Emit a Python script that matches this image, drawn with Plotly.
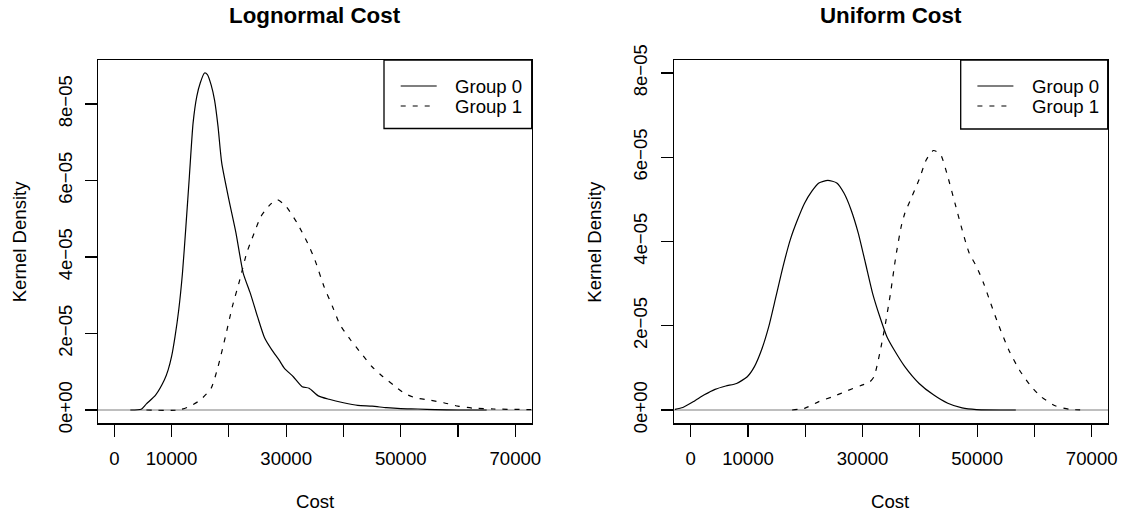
import plotly.graph_objects as go

# ---------------- data ----------------
# Lognormal Cost panel
logn_g0_x = [2800, 4700, 5600, 7200, 8750, 9400, 10000, 10600, 11250, 11900, 12500, 13100,
             13750, 14400, 15000, 15750, 16250, 16900, 17500, 18100, 18750, 20000, 21250,
             22500, 23750, 25000, 26250, 27500, 28750, 29700, 31250, 32800, 34000, 35600,
             37500, 40000, 42500, 45000, 47500, 50000, 53000, 56000, 60000, 65000]
logn_g0_y = [0.0, 0.02, 0.16, 0.39, 0.79, 1.05, 1.4, 1.92, 2.62, 3.58, 4.8, 6.1,
             7.5, 8.2, 8.55, 8.81, 8.77, 8.5, 8.1, 7.42, 6.46, 5.5, 4.62,
             3.58, 3.05, 2.44, 1.88, 1.57, 1.31, 1.09, 0.87, 0.61, 0.57, 0.37,
             0.28, 0.19, 0.12, 0.10, 0.06, 0.035, 0.026, 0.01, 0.0, 0.0]
logn_g1_x = [5600, 11250, 13100, 15000, 16900, 18100, 19400, 20600, 21900, 23100, 24400,
             25600, 27200, 28400, 30000, 31900, 33750, 35000, 36600, 38100, 39400, 41250,
             43100, 45000, 46900, 48750, 50600, 52500, 55000, 57500, 60000, 62500, 66250,
             72800]
logn_g1_y = [0.0, 0.0, 0.09, 0.26, 0.57, 1.13, 1.92, 2.7, 3.4, 4.1, 4.62,
             5.06, 5.37, 5.5, 5.32, 4.89, 4.36, 3.93, 3.23, 2.7, 2.23, 1.83,
             1.48, 1.13, 0.87, 0.65, 0.44, 0.32, 0.26, 0.19, 0.10, 0.05, 0.026,
             0.01]

# Uniform Cost panel
unif_g0_x = [-2750, -1375, 500, 2375, 4250, 6125, 8000, 9875, 11125, 12375, 13625, 14875,
             16125, 17375, 18625, 19875, 21125, 22375, 23940, 25500, 26750, 28000, 29250,
             30500, 31750, 33000, 34250, 35500, 37375, 39875, 42375, 44875, 47375, 49875,
             56750]
unif_g0_y = [0.016, 0.06, 0.2, 0.36, 0.49, 0.57, 0.63, 0.79, 1.03, 1.43, 1.98, 2.69,
             3.41, 4.04, 4.51, 4.91, 5.19, 5.39, 5.45, 5.39, 5.15, 4.75, 4.2,
             3.49, 2.77, 2.22, 1.74, 1.43, 1.03, 0.63, 0.36, 0.16, 0.05, 0.01,
             0.0]
unif_g1_x = [17700, 19875, 22375, 24875, 27375, 29875, 31125, 32000, 33000, 33900, 34875,
             35800, 36750, 37375, 38625, 39875, 41125, 42375, 43625, 44875, 46125, 47375,
             48625, 49875, 51125, 52375, 53625, 55500, 57375, 59250, 61125, 63625, 66125,
             68625]
unif_g1_y = [0.0, 0.04, 0.2, 0.32, 0.46, 0.59, 0.65, 0.79, 1.35, 1.98, 2.77,
             3.64, 4.36, 4.67, 5.07, 5.47, 5.94, 6.16, 6.06, 5.54, 4.91, 4.28,
             3.72, 3.41, 3.01, 2.53, 2.06, 1.43, 0.95, 0.59, 0.32, 0.1, 0.016,
             0.0]

DENS_SCALE = 1e-5  # y values above are in units of 1e-05

panel_titles = ["Lognormal Cost", "Uniform Cost"]
series_names = ["Group 0", "Group 1"]
x_tick_vals = [0, 10000, 20000, 30000, 40000, 50000, 60000, 70000]
x_tick_text = ["0", "10000", "", "30000", "", "50000", "", "70000"]
y_tick_vals = [0, 2e-5, 4e-5, 6e-5, 8e-5]
y_tick_text = ["0e+00", "2e\u221205", "4e\u221205", "6e\u221205", "8e\u221205"]

# ---------------- layout geometry (pixels, in window coordinates) ----------------
W, H = 1122, 518
FONT = "Liberation Sans, Arial, Helvetica, sans-serif"
FS = 18.6
DASH = "5px,7px"


def px(x):
    return x / W


def py(y):
    return 1 - y / H


panels = [
    dict(left=98.3, right=531.7, xr=[-2793, 72860], yr=[-0.3477e-5, 9.150e-5],
         g0=(logn_g0_x, logn_g0_y), g1=(logn_g1_x, logn_g1_y),
         ylab_x=19.7, leg_left=384, leg_bottom=128.5),
    dict(left=674.0, right=1107.7, xr=[-2915, 72790], yr=[-0.3157e-5, 8.309e-5],
         g0=(unif_g0_x, unif_g0_y), g1=(unif_g1_x, unif_g1_y),
         ylab_x=595.0, leg_left=960.7, leg_bottom=129),
]
TOP, BOTTOM = 60.0, 423.3

fig = go.Figure()
shapes = []
annotations = []

for i, p in enumerate(panels):
    xa = "x" if i == 0 else "x2"
    ya = "y" if i == 0 else "y2"
    for (xs, ys), dash, name in [(p["g0"], "solid", series_names[0]),
                                 (p["g1"], DASH, series_names[1])]:
        fig.add_trace(go.Scatter(
            x=xs, y=[v * DENS_SCALE for v in ys], mode="lines", name=name,
            line=dict(color="black", width=1.2, dash=dash, shape="spline", smoothing=0.6),
            xaxis=xa, yaxis=ya, showlegend=False, hoverinfo="skip"))

    axis_common = dict(showline=True, mirror=True, linecolor="black", linewidth=1.3,
                       ticks="outside", ticklen=12, tickwidth=1.2, tickcolor="black",
                       showgrid=False, automargin=False,
                       tickfont=dict(family=FONT, size=FS, color="black"))
    xkey = "xaxis" if i == 0 else "xaxis2"
    ykey = "yaxis" if i == 0 else "yaxis2"
    fig.layout[xkey] = dict(axis_common, domain=[px(p["left"]), px(p["right"])],
                            range=p["xr"], tickvals=x_tick_vals, ticktext=x_tick_text,
                            zeroline=False, anchor=ya, ticklabelstandoff=6)
    fig.layout[ykey] = dict(axis_common, domain=[py(BOTTOM), py(TOP)],
                            range=p["yr"], tickvals=y_tick_vals, ticktext=y_tick_text,
                            tickangle=-90, zeroline=True, zerolinecolor="#BEBEBE",
                            zerolinewidth=1.2, anchor=xa, ticklabelstandoff=6)

    cx = (p["left"] + p["right"]) / 2
    annotations.append(dict(text="<b>" + panel_titles[i] + "</b>", x=px(cx), y=py(15),
                            xref="paper", yref="paper", showarrow=False,
                            xanchor="center", yanchor="middle",
                            font=dict(family=FONT, size=FS * 1.2, color="black")))
    annotations.append(dict(text="Cost", x=px(cx), y=py(501), xref="paper", yref="paper",
                            showarrow=False, xanchor="center", yanchor="middle",
                            font=dict(family=FONT, size=FS, color="black")))
    annotations.append(dict(text="Kernel Density", x=px(p["ylab_x"]), y=py((TOP + BOTTOM) / 2),
                            xref="paper", yref="paper", showarrow=False, textangle=-90,
                            xanchor="center", yanchor="middle",
                            font=dict(family=FONT, size=FS, color="black")))
    shapes.append(dict(type="rect", xref="paper", yref="paper",
                       x0=px(p["leg_left"]), x1=px(p["right"]),
                       y0=py(p["leg_bottom"]), y1=py(TOP),
                       line=dict(color="black", width=1.3), fillcolor="white"))
    for k, (dash, ly) in enumerate([("solid", 86), (DASH, 106)]):
        lx0 = p["leg_left"] + 16.7
        shapes.append(dict(type="line", xref="paper", yref="paper",
                           x0=px(lx0), x1=px(lx0 + 36), y0=py(ly), y1=py(ly),
                           line=dict(color="black", width=1.2, dash=dash)))
        annotations.append(dict(text=series_names[k], x=px(p["leg_left"] + 69.3), y=py(ly),
                                xref="paper", yref="paper", showarrow=False,
                                xanchor="left", yanchor="middle",
                                font=dict(family=FONT, size=FS, color="black")))

fig.update_layout(template="none", width=W, height=H, autosize=False,
                  margin=dict(l=0, r=0, t=0, b=0, pad=0, autoexpand=False),
                  paper_bgcolor="white", plot_bgcolor="white",
                  shapes=shapes, annotations=annotations, showlegend=False)

fig.write_html("out.html",
               config={"displayModeBar": False, "staticPlot": True},
               post_script="document.body.style.margin='0';"
                           "document.body.style.overflow='hidden';")
